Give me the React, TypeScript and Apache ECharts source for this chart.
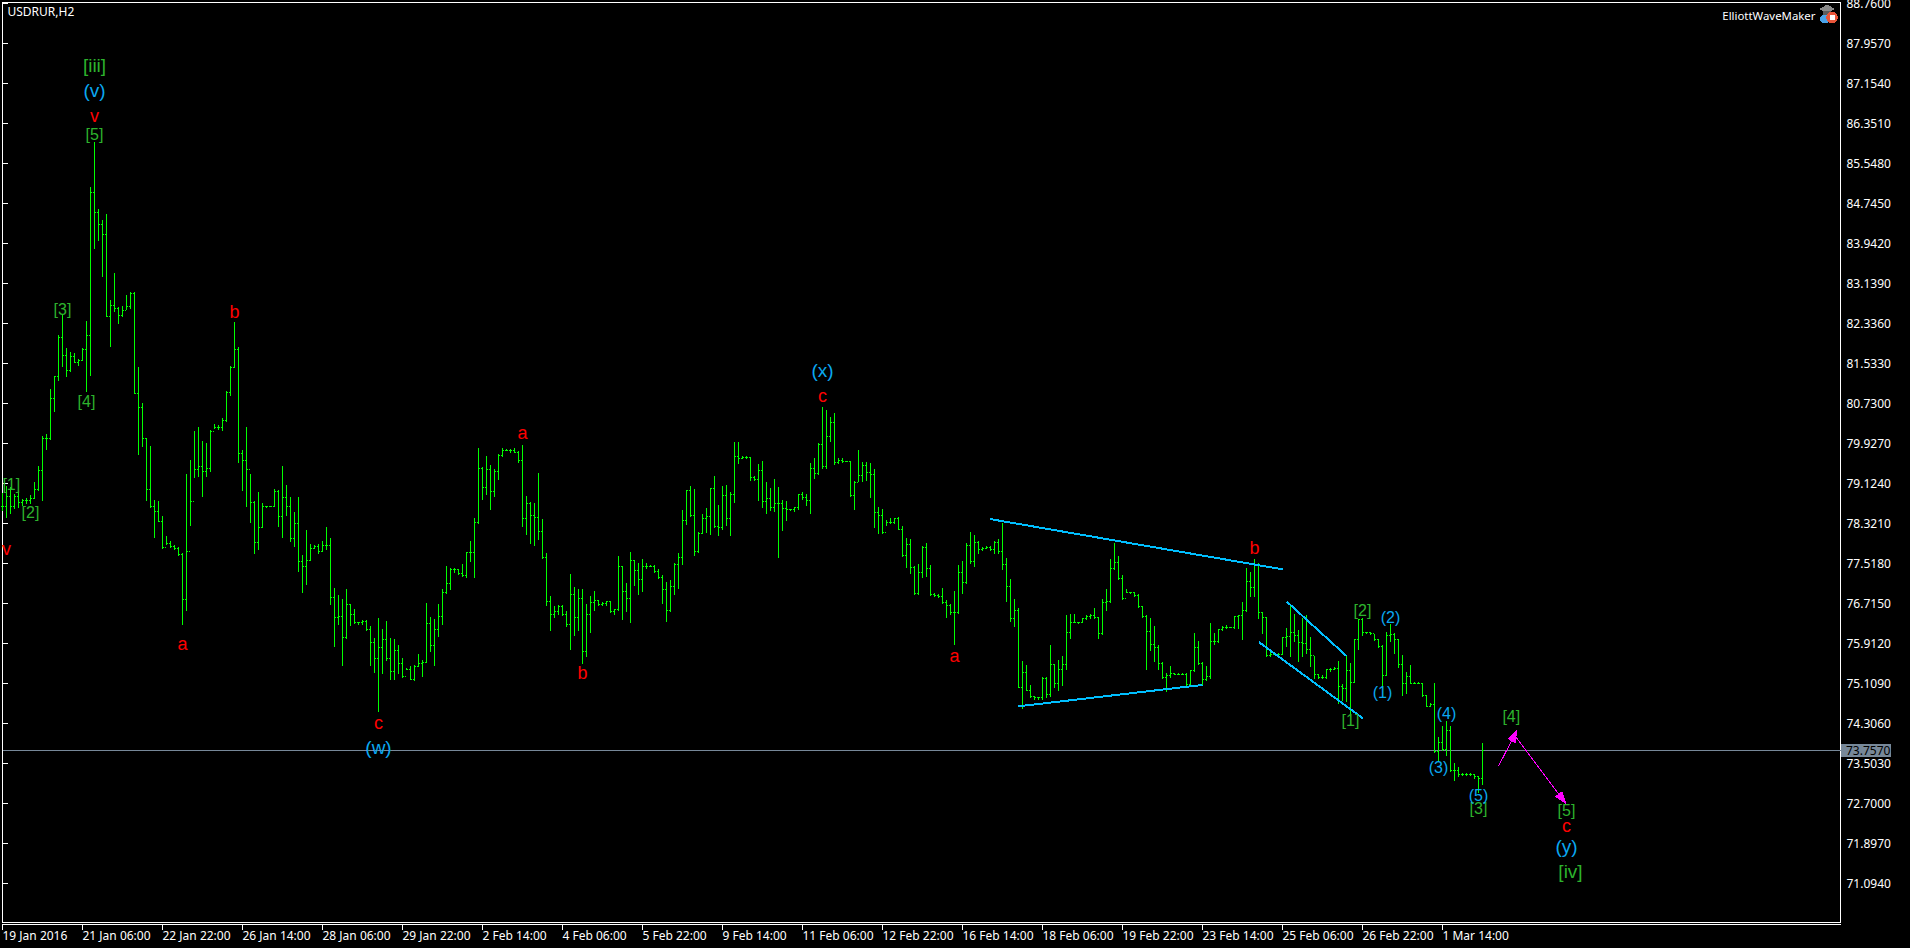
import React, { useEffect, useRef } from "react";
import * as echarts from "echarts";

const symbolName = "USDRUR,H2";
const makerName = "ElliottWaveMaker";
const lastPrice = 73.757;

const dateLabels = ["19 Jan 2016", "21 Jan 06:00", "22 Jan 22:00", "26 Jan 14:00", "28 Jan 06:00", "29 Jan 22:00", "2 Feb 14:00", "4 Feb 06:00", "5 Feb 22:00", "9 Feb 14:00", "11 Feb 06:00", "12 Feb 22:00", "16 Feb 14:00", "18 Feb 06:00", "19 Feb 22:00", "23 Feb 14:00", "25 Feb 06:00", "26 Feb 22:00", "1 Mar 14:00"];
const dateTicks = [0, 20, 40, 60, 80, 100, 120, 140, 160, 180, 200, 220, 240, 260, 280, 300, 320, 340, 360];
const priceTicks = [88.76, 87.957, 87.154, 86.351, 85.548, 84.745, 83.942, 83.139, 82.336, 81.533, 80.73, 79.927, 79.124, 78.321, 77.518, 76.715, 75.912, 75.109, 74.306, 73.503, 72.7, 71.897, 71.094];

const highs = [
78.93,79.07,79.05,78.91,78.97,78.81,78.83,78.89,79.15,79.46,
80.06,80.11,81.02,81.28,82.09,82.52,81.84,81.76,81.74,81.62,
81.84,82.38,85.07,85.97,84.63,84.4,84.52,82.79,83.34,82.66,
82.67,82.89,82.96,82.96,81.45,80.73,80.02,79.86,78.78,78.76,
78.46,78.06,77.96,77.87,77.83,77.71,79.31,79.59,80.16,80.25,
79.96,79.92,80.18,80.31,80.28,80.43,80.97,81.48,82.36,81.86,
79.78,80.25,79.31,78.77,78.95,78.72,78.67,78.67,79.01,78.99,
79.47,79.09,78.84,78.55,78.84,77.67,78.19,77.89,77.87,77.89,
77.95,78.25,78.01,77.02,76.88,76.8,77.0,76.7,76.6,76.34,
76.38,76.38,76.26,76.01,76.41,76.2,76.36,76.02,76.0,75.88,
75.62,75.42,75.46,75.47,75.7,75.58,76.72,76.44,76.39,76.7,
77.0,77.45,77.42,77.42,77.39,77.49,77.74,77.96,78.43,79.83,
79.45,79.67,79.49,79.4,79.71,79.83,79.81,79.81,79.83,79.76,
79.89,78.87,78.75,78.72,79.33,78.41,77.72,76.86,76.66,76.68,
76.68,76.56,77.3,77.04,77.0,77.0,76.7,76.86,76.96,76.78,
76.74,76.76,76.76,76.6,77.65,77.46,77.12,77.74,77.57,77.52,
77.6,77.52,77.47,77.48,77.39,77.28,77.14,77.18,77.51,77.72,
78.59,78.99,79.07,79.01,78.15,78.51,78.63,79.03,79.27,78.69,
79.07,79.09,78.95,79.95,79.95,79.67,79.67,79.65,79.27,79.51,
79.57,79.15,79.03,79.21,79.05,78.79,78.77,78.61,78.65,78.91,
78.95,78.91,79.53,79.63,79.93,80.64,80.58,80.44,80.52,79.63,
79.63,79.57,79.57,79.17,79.79,79.55,79.55,79.53,79.41,78.65,
78.61,78.39,78.43,78.43,78.45,78.27,78.01,77.99,77.46,77.5,
77.85,77.91,77.48,76.92,76.9,77.02,76.78,76.7,76.96,77.48,
77.56,77.91,78.15,78.09,77.95,77.83,77.85,77.85,77.95,77.99,
78.33,77.62,77.2,76.8,76.62,75.56,75.48,75.06,74.85,74.83,
75.22,75.22,75.88,75.5,75.58,75.66,76.48,76.5,76.5,76.34,
76.42,76.48,76.5,76.62,76.44,76.8,77.0,77.6,77.91,77.65,
77.28,77.0,76.94,76.94,76.9,76.66,76.47,76.42,76.26,75.88,
75.54,75.31,75.46,75.3,75.3,75.3,75.3,75.37,76.12,75.96,
75.54,75.46,76.32,76.12,76.2,76.26,76.28,76.24,76.46,76.48,
76.74,77.42,77.33,77.59,77.52,76.53,76.43,75.74,75.71,75.71,
76.03,76.22,76.69,76.5,76.18,76.42,76.48,76.04,75.66,75.28,
75.27,75.4,75.42,75.44,75.56,75.08,75.66,75.51,76.0,76.4,
76.41,76.14,76.13,76.1,75.99,75.88,76.13,76.3,76.11,76.0,
75.68,75.32,75.47,75.12,75.12,75.11,74.87,74.71,75.1,74.02,
74.25,74.35,74.25,73.5,73.42,73.3,73.3,73.3,73.29,73.24,
73.91];

const lows = [
78.59,78.44,78.52,78.62,78.64,78.69,78.73,78.73,78.83,78.98,
78.78,79.81,80.0,80.57,81.2,81.47,81.27,81.38,81.55,81.5,
81.6,80.97,81.3,83.85,84.01,83.28,82.47,81.87,82.57,82.34,
82.47,82.61,82.63,80.93,79.7,79.86,78.78,78.65,78.03,78.36,
77.82,77.89,77.84,77.8,77.68,76.29,76.57,78.29,79.24,79.26,
78.86,79.26,79.36,80.22,80.21,80.19,80.37,80.89,81.46,79.54,
78.98,78.66,78.35,77.71,77.79,78.24,78.64,78.66,78.67,78.27,
78.03,78.49,77.95,77.85,77.36,76.94,77.1,77.57,77.82,77.71,
77.75,77.79,76.7,75.86,76.3,75.48,76.02,76.28,76.31,76.3,
76.3,76.17,75.48,75.32,74.55,75.3,75.57,75.18,75.18,75.31,
75.22,75.38,75.18,75.16,75.45,75.24,75.53,75.76,75.47,76.06,
76.3,76.91,77.0,77.34,77.29,77.25,77.23,77.55,77.24,78.32,
78.81,78.91,78.61,78.87,79.21,79.66,79.78,79.74,79.75,79.54,
78.27,78.11,77.91,77.87,78.0,77.61,76.67,76.18,76.43,76.5,
76.48,76.26,75.8,76.08,76.18,75.52,75.66,76.14,76.58,76.67,
76.68,76.68,76.53,76.5,76.58,76.4,76.56,76.34,77.08,76.9,
76.96,77.41,77.45,77.34,77.22,76.72,76.36,76.55,76.9,77.02,
77.49,78.31,78.47,77.67,77.74,78.13,78.15,78.11,78.25,78.07,
78.21,78.29,78.07,78.75,79.53,79.62,79.62,79.18,79.18,78.79,
78.65,78.53,78.59,78.57,77.63,78.19,78.39,78.59,78.57,78.61,
78.81,78.69,78.53,79.23,79.31,79.43,79.43,79.97,79.51,79.52,
79.55,79.56,78.87,78.61,79.17,79.17,79.19,78.85,78.25,78.13,
78.13,78.29,78.33,78.33,78.2,77.65,77.44,77.32,76.9,76.9,
77.24,77.26,76.88,76.86,76.84,76.72,76.44,76.5,75.9,76.51,
76.92,77.12,77.52,77.46,77.71,77.77,77.81,77.77,77.71,77.71,
77.4,76.76,76.36,76.26,75.02,74.61,74.96,74.83,74.79,74.79,
74.79,74.83,74.84,75.02,74.96,75.06,75.4,76.02,76.33,76.32,
76.33,76.4,76.42,76.42,76.02,76.1,76.58,76.73,77.4,77.2,
76.8,76.94,76.91,76.86,76.64,76.44,75.4,75.78,75.56,75.38,
75.2,74.94,75.22,75.28,75.28,75.28,75.06,75.06,75.34,75.5,
75.08,75.16,75.2,75.9,75.94,76.18,76.22,76.23,76.22,76.21,
76.0,76.56,76.85,76.85,76.41,76.11,75.66,75.66,75.69,75.69,
75.69,75.86,75.66,75.95,75.56,75.66,75.72,75.46,75.2,75.21,
75.2,75.2,75.34,75.38,74.71,74.77,74.74,74.45,75.12,75.8,
76.08,76.11,76.09,75.98,75.84,75.04,75.26,75.95,75.72,75.44,
74.86,74.91,75.1,75.1,75.1,74.85,74.64,74.64,73.72,73.57,
73.77,73.67,73.34,73.16,73.25,73.26,73.26,73.26,73.2,72.93,
73.09];

const closes = [
78.67,78.87,78.67,78.87,78.75,78.78,78.78,78.83,79.01,79.38,
80.03,80.02,80.83,81.27,82.06,81.7,81.4,81.68,81.55,81.6,
81.82,82.1,84.97,84.57,84.33,84.13,82.47,82.69,82.64,82.49,
82.59,82.67,82.94,80.93,80.65,80.02,79.01,78.67,78.56,78.37,
77.84,77.92,77.86,77.82,77.7,76.8,77.76,78.77,79.41,79.46,
79.36,79.42,80.17,80.25,80.25,80.39,80.95,81.46,81.82,79.73,
79.58,79.4,78.74,77.94,78.24,78.66,78.66,78.66,78.96,78.46,
78.84,78.66,78.02,78.32,77.56,77.46,77.58,77.82,77.86,77.75,
77.88,77.88,76.84,76.44,76.46,76.03,76.7,76.5,76.33,76.33,
76.36,76.19,75.93,75.61,75.83,75.99,75.61,75.35,75.77,75.51,
75.24,75.4,75.19,75.45,75.51,75.53,76.31,75.87,76.19,76.46,
76.94,77.12,77.39,77.39,77.31,77.28,77.74,77.74,78.34,79.43,
79.04,79.4,78.96,79.37,79.69,79.79,79.79,79.79,79.75,79.58,
78.42,78.72,78.48,78.44,78.16,77.64,76.76,76.49,76.55,76.66,
76.5,76.29,76.9,76.44,76.82,75.75,76.5,76.74,76.77,76.7,
76.72,76.75,76.55,76.59,77.45,76.96,76.82,77.57,77.37,77.2,
77.46,77.46,77.46,77.36,77.24,77.0,76.57,77.06,77.49,77.63,
78.38,78.98,78.48,77.75,78.13,78.42,78.46,79.02,78.27,78.24,
78.88,78.42,78.9,79.67,79.63,79.65,79.65,79.24,79.2,79.38,
78.76,78.82,78.64,78.72,78.72,78.62,78.61,78.6,78.64,78.9,
78.84,78.78,79.42,79.32,79.91,79.46,80.07,80.35,79.55,79.58,
79.57,79.57,78.88,79.15,79.28,79.48,79.35,79.3,78.55,78.49,
78.15,78.34,78.35,78.42,78.21,77.68,77.9,77.44,76.92,77.34,
77.83,77.42,76.9,76.88,76.86,76.74,76.68,76.53,76.53,77.34,
77.14,77.87,77.56,77.93,77.79,77.81,77.83,77.79,77.94,77.75,
77.5,77.06,76.41,76.57,75.03,75.33,74.97,74.85,74.82,74.82,
75.21,74.88,75.5,75.1,75.39,75.49,76.13,76.34,76.33,76.33,
76.41,76.46,76.48,76.43,76.11,76.73,76.75,77.41,77.54,77.22,
76.82,76.94,76.93,76.88,76.65,76.46,76.15,75.89,75.84,75.52,
75.22,75.26,75.3,75.29,75.29,75.29,75.08,75.36,75.83,75.51,
75.19,75.25,75.95,75.95,76.19,76.23,76.23,76.23,76.45,76.47,
76.57,77.16,77.04,77.5,76.53,76.43,75.68,75.7,75.7,75.7,
76.03,76.06,76.13,76.08,75.93,75.92,75.79,75.68,75.28,75.23,
75.23,75.38,75.39,75.42,75.04,75.01,75.36,75.13,75.99,76.39,
76.13,76.13,76.11,75.99,75.86,75.26,76.08,76.1,75.99,75.5,
75.11,75.24,75.11,75.11,75.11,74.87,74.65,74.68,73.74,73.92,
73.78,74.16,73.36,73.37,73.28,73.28,73.28,73.28,73.24,73.2,
73.76];

const redLabels: [string, number, number][] = [["v", 23, 86.48], ["v", 1, 77.78], ["b", 58, 82.54], ["a", 45, 75.88], ["c", 94, 74.29], ["a", 130, 80.12], ["b", 145, 75.3], ["c", 205, 80.86], ["a", 238, 75.64], ["b", 313, 77.81], ["c", 391, 72.23]];
const minorGreenLabels: [string, number, number][] = [["[5]", 23, 86.1], ["[3]", 15, 82.6], ["[4]", 21, 80.74], ["[1]", 2.2, 79.09], ["[2]", 7, 78.53], ["[1]", 337, 74.34], ["[2]", 340, 76.56], ["[3]", 369, 72.57], ["[4]", 377.2, 74.43], ["[5]", 391, 72.53]];
const majorGreenLabels: [string, number, number][] = [["[iii]", 23, 87.48], ["[iv]", 392, 71.29]];
const minorBlueLabels: [string, number, number][] = [["(2)", 347, 76.44], ["(1)", 345, 74.92], ["(4)", 361, 74.5], ["(3)", 359, 73.43], ["(5)", 369, 72.87]];
const majorBlueLabels: [string, number, number][] = [["(v)", 23, 86.98], ["(w)", 94, 73.78], ["(x)", 205, 81.36], ["(y)", 391, 71.8]];

const triangleLines: [number, number][][] = [
  [[246.9, 78.41], [320.1, 77.4]],
  [[253.9, 74.65], [300, 75.08]],
  [[321.1, 76.75], [336, 75.66]],
  [[314.1, 75.94], [340.1, 74.41]],
];
const projection: [number, number][] = [[374, 73.45], [378, 74.07], [390, 72.79]];

const X_MAX = 459.5;
const Y_MIN = 70.311;
const Y_MAX = 88.78;

const labelSeries = (rows: [string, number, number][], fill: string, size: number, lift: number) => ({
  type: "custom",
  coordinateSystem: "cartesian2d",
  silent: true,
  z: 5,
  data: rows.map((r) => [r[1], r[2]]),
  renderItem: (params: any, api: any) => {
    const p = api.coord([api.value(0), api.value(1)]);
    return {
      type: "text",
      x: p[0],
      y: p[1] - lift,
      style: {
        text: rows[params.dataIndex][0],
        fill,
        font: `${size}px "Liberation Sans", Arial, sans-serif`,
        align: "center",
        verticalAlign: "middle",
      },
    };
  },
});

export default function App() {
  const ref = useRef<HTMLDivElement>(null);
  useEffect(() => {
    document.body.style.margin = "0";
    document.body.style.background = "#000";
    const chart = echarts.init(ref.current!, undefined, { renderer: "svg" });
    const opens = closes.map((c, i) => (i === 0 ? c : closes[i - 1]));
    const uiFont = '"Noto Sans", Tahoma, sans-serif';
    chart.setOption({
      animation: false,
      backgroundColor: "#000000",
      grid: { left: 2.5, top: 2.5, width: 1838, height: 920, outerBoundsMode: "none", show: true, borderColor: "#ffffff", borderWidth: 1, backgroundColor: "#000000" },
      xAxis: {
        type: "value",
        min: 0,
        max: X_MAX,
        offset: 2,
        splitLine: { show: false },
        axisLine: { show: true, onZero: false, lineStyle: { color: "#ffffff", width: 1 } },
        axisTick: { show: true, length: 5, customValues: dateTicks, lineStyle: { color: "#ffffff", width: 1 } },
        axisLabel: {
          color: "#ffffff",
          fontFamily: uiFont,
          fontSize: 12,
          margin: 5,
          align: "left",
          customValues: dateTicks,
          hideOverlap: false,
          formatter: (v: number) => dateLabels[dateTicks.indexOf(v)] ?? "",
        },
      },
      yAxis: {
        type: "value",
        position: "right",
        min: Y_MIN,
        max: Y_MAX,
        splitLine: { show: false },
        axisLine: { show: false },
        axisTick: { show: true, length: 5, customValues: priceTicks, lineStyle: { color: "#ffffff", width: 1 } },
        axisLabel: {
          color: "#ffffff",
          fontFamily: uiFont,
          fontSize: 12,
          margin: 6,
          customValues: priceTicks,
          hideOverlap: false,
          formatter: (v: number) => v.toFixed(4),
        },
      },
      graphic: [
        { type: "text", x: 7.5, y: 5, style: { text: symbolName, fill: "#ffffff", font: `12px ${uiFont}` } },
        { type: "text", x: 1815.5, y: 10, style: { text: makerName, fill: "#ffffff", font: `11.4px ${uiFont}`, align: "right" } },
        { type: "polygon", shape: { points: [[1827, 4.5], [1835, 9], [1827, 13.5], [1819.5, 9]] }, style: { fill: "#8a8a8a" } },
        { type: "rect", shape: { x: 1823, y: 10.5, width: 8, height: 4 }, style: { fill: "#5c5c5c" } },
        { type: "ellipse", shape: { cx: 1825, cy: 19, rx: 5.5, ry: 4.5 }, style: { fill: "#4aa3e8" } },
        { type: "circle", shape: { cx: 1832, cy: 17.5, r: 5.8 }, style: { fill: "#e8553a" } },
        { type: "rect", shape: { x: 1829.5, y: 15, width: 5, height: 5 }, style: { fill: "#ffffff" } },
      ],
      series: [
        {
          type: "line",
          silent: true,
          symbol: "none",
          z: 1,
          lineStyle: { color: "#778899", width: 1 },
          data: [[0, lastPrice], [X_MAX, lastPrice]],
        },
        {
          type: "custom",
          coordinateSystem: "cartesian2d",
          silent: true,
          z: 2,
          encode: { x: 0, y: [1, 2, 3, 4] },
          data: highs.map((h, i) => [i, h, lows[i], opens[i], closes[i]]),
          renderItem: (_p: any, api: any) => {
            const i = api.value(0);
            const snap = (v: number) => Math.round(api.coord([i, v])[1] - 0.5) + 0.5;
            const x = Math.floor(api.coord([i, 80])[0]) + 0.5;
            const style = { stroke: "#00ff00", lineWidth: 1, fill: "none" };
            const yHigh = snap(api.value(1)) - 0.5;
            const yLow = snap(api.value(2)) + 0.5;
            const yOpen = snap(api.value(3));
            const yClose = snap(api.value(4));
            return {
              type: "group",
              children: [
                { type: "line", shape: { x1: x, y1: yHigh, x2: x, y2: yLow }, style },
                { type: "line", shape: { x1: x - 1.5, y1: yOpen, x2: x - 0.5, y2: yOpen }, style },
                { type: "line", shape: { x1: x + 0.5, y1: yClose, x2: x + 1.5, y2: yClose }, style },
              ],
            };
          },
        },
        ...triangleLines.map((pts) => ({
          type: "line",
          silent: true,
          symbol: "none",
          z: 3,
          lineStyle: { color: "#00bfff", width: 2 },
          data: pts,
        })),
        {
          type: "line",
          silent: true,
          symbol: "none",
          z: 3,
          lineStyle: { width: 0, opacity: 0 },
          data: [projection[0]],
          markLine: {
            silent: true,
            animation: false,
            symbol: ["none", "triangle"],
            symbolSize: [9, 13],
            label: { show: false },
            lineStyle: { color: "#ff00ff", width: 1, type: "solid" },
            data: [
              [{ coord: projection[0] }, { coord: projection[1] }],
              [{ coord: projection[1] }, { coord: projection[2] }],
            ],
          },
        },
        labelSeries(redLabels, "#ff0000", 18, 1),
        labelSeries(minorGreenLabels, "#2db32d", 16, 1),
        labelSeries(majorGreenLabels, "#2db32d", 19, 2),
        labelSeries(minorBlueLabels, "#0aa8f0", 16, 0),
        labelSeries(majorBlueLabels, "#0aa8f0", 19, 2),
        {
          type: "custom",
          coordinateSystem: "cartesian2d",
          silent: true,
          z: 6,
          data: [[X_MAX, lastPrice]],
          renderItem: (_p: any, api: any) => {
            const p = api.coord([api.value(0), api.value(1)]);
            return {
              type: "group",
              children: [
                { type: "rect", shape: { x: p[0] + 0.5, y: p[1] - 6.5, width: 50, height: 13 }, style: { fill: "#778899" } },
                { type: "text", x: p[0] + 5.5, y: p[1], style: { text: lastPrice.toFixed(4), fill: "#000000", font: `12px ${uiFont}`, verticalAlign: "middle" } },
              ],
            };
          },
        },
      ],
    });
    const svg = ref.current!.querySelector("svg");
    if (svg) svg.style.shapeRendering = "crispEdges";
    return () => chart.dispose();
  }, []);
  return <div ref={ref} style={{ position: "fixed", left: 0, top: 0, width: 1910, height: 948 }} />;
}
